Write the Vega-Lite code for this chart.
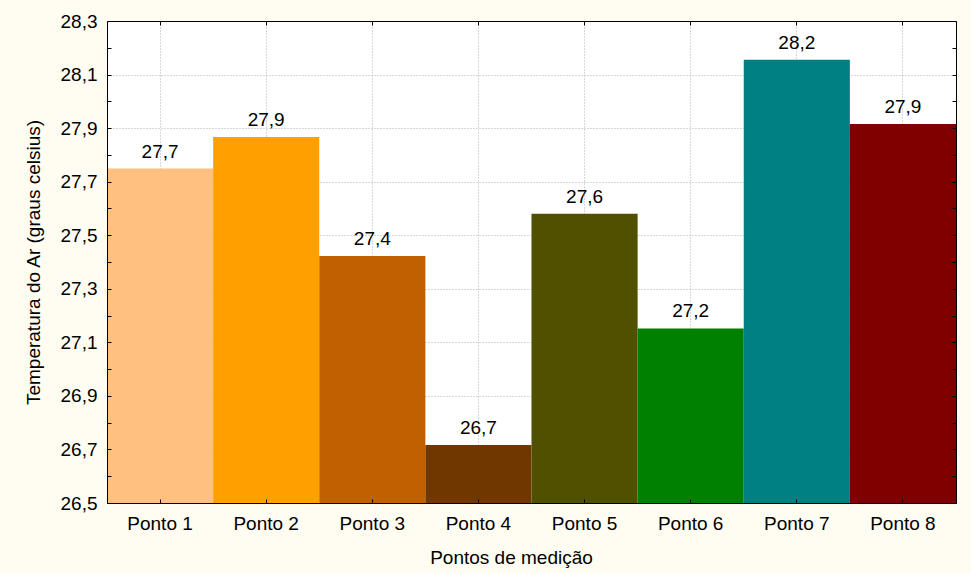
{
  "$schema": "https://vega.github.io/schema/vega-lite/v6.json",
  "width": 849,
  "height": 482,
  "autosize": {"type": "none"},
  "padding": {"left": 107, "top": 21, "right": 15, "bottom": 70},
  "background": "#FFFDF2",
  "config": {
    "locale": {"number": {"decimal": ",", "thousands": ".", "grouping": [3], "currency": ["R$ ", ""]}},
    "view": {"fill": "#ffffff", "stroke": null},
    "font": "Liberation Sans",
    "axis": {
      "labelFont": "Liberation Sans",
      "titleFont": "Liberation Sans",
      "labelFontSize": 19,
      "titleFontSize": 19,
      "labelColor": "#000000",
      "titleColor": "#000000",
      "titleFontWeight": "normal",
      "domainColor": "#000000",
      "domainWidth": 1,
      "tickColor": "#000000",
      "labelOverlap": false,
      "labelFlush": false
    }
  },
  "data": {
    "values": [
      {"ponto": "Ponto 1", "temp": 27.749},
      {"ponto": "Ponto 2", "temp": 27.867},
      {"ponto": "Ponto 3", "temp": 27.422},
      {"ponto": "Ponto 4", "temp": 26.717},
      {"ponto": "Ponto 5", "temp": 27.58},
      {"ponto": "Ponto 6", "temp": 27.152},
      {"ponto": "Ponto 7", "temp": 28.155},
      {"ponto": "Ponto 8", "temp": 27.915}
    ]
  },
  "layer": [
    {
      "mark": {"type": "bar"},
      "encoding": {
        "x": {
          "field": "ponto", "type": "nominal", "sort": null,
          "scale": {"paddingInner": 0, "paddingOuter": 0},
          "axis": {"orient": "bottom", "grid": true, "gridColor": "#b0b0b0", "gridDash": [1, 2], "domain": false, "ticks": false, "labels": false, "title": null, "zindex": 0}
        },
        "y": {
          "field": "temp", "type": "quantitative",
          "scale": {"domain": [26.5, 28.3], "zero": false, "nice": false},
          "axis": {"orient": "left", "values": [26.5, 26.7, 26.9, 27.1, 27.3, 27.5, 27.7, 27.9, 28.1, 28.3], "grid": true, "gridColor": "#b0b0b0", "gridDash": [1, 2], "domain": false, "ticks": false, "labels": false, "title": null, "zindex": 0}
        },
        "y2": {"datum": 26.5},
        "color": {
          "field": "ponto", "type": "nominal",
          "scale": {
            "domain": ["Ponto 1", "Ponto 2", "Ponto 3", "Ponto 4", "Ponto 5", "Ponto 6", "Ponto 7", "Ponto 8"],
            "range": ["#FFC080", "#FFA000", "#C06000", "#703800", "#505000", "#008000", "#008080", "#800000"]
          },
          "legend": null
        }
      }
    },
    {
      "mark": {"type": "text", "dy": -11, "baseline": "alphabetic", "fontSize": 19, "font": "Liberation Sans", "color": "#000000"},
      "encoding": {
        "x": {
          "field": "ponto", "type": "nominal", "sort": null,
          "axis": {"orient": "bottom", "grid": false, "domain": true, "ticks": true, "tickSize": -4, "labelPadding": 15, "labelAngle": 0, "title": "Pontos de medição", "titleX": 404, "titleY": 54, "titleBaseline": "middle", "titleAlign": "center", "zindex": 1}
        },
        "y": {
          "field": "temp", "type": "quantitative",
          "axis": {
            "orient": "left",
            "values": [26.5, 26.6, 26.7, 26.8, 26.9, 27.0, 27.1, 27.2, 27.3, 27.4, 27.5, 27.6, 27.7, 27.8, 27.9, 28.0, 28.1, 28.2, 28.3],
            "format": ".1f",
            "labelExpr": "round(datum.value * 10) % 2 == 1 ? datum.label : ''",
            "grid": false, "domain": true, "ticks": true, "tickSize": -4, "labelPadding": 14,
            "title": "Temperatura do Ar (graus celsius)", "titleX": -74, "titleY": 241, "titleAngle": -90, "titleBaseline": "middle", "titleAlign": "center",
            "zindex": 1
          }
        },
        "text": {"field": "temp", "type": "quantitative", "format": ".1f"}
      }
    },
    {
      "mark": {"type": "bar", "opacity": 0},
      "encoding": {
        "x": {
          "field": "ponto", "type": "nominal", "sort": null,
          "axis": {"orient": "top", "grid": false, "domain": true, "ticks": true, "tickSize": -4, "labels": false, "title": null, "zindex": 1}
        },
        "y": {
          "field": "temp", "type": "quantitative",
          "axis": {
            "orient": "right",
            "values": [26.5, 26.6, 26.7, 26.8, 26.9, 27.0, 27.1, 27.2, 27.3, 27.4, 27.5, 27.6, 27.7, 27.8, 27.9, 28.0, 28.1, 28.2, 28.3],
            "grid": false, "domain": true, "ticks": true, "tickSize": -4, "labels": false, "title": null, "zindex": 1
          }
        },
        "y2": {"datum": 26.5}
      }
    }
  ],
  "resolve": {"axis": {"x": "independent", "y": "independent"}}
}
